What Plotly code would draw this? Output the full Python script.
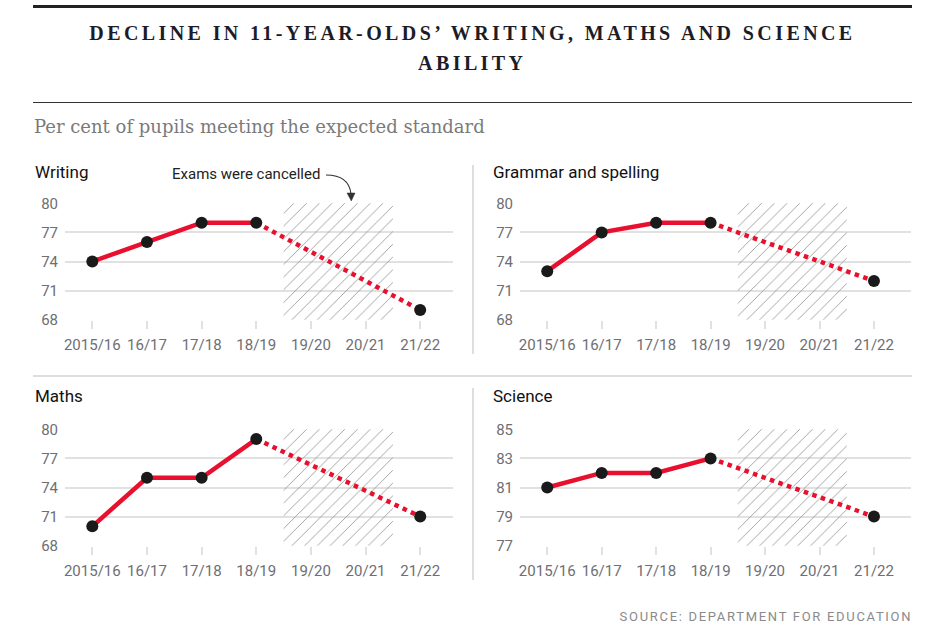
import plotly.graph_objects as go

# ---------------- data ----------------
categories = ["2015/16", "16/17", "17/18", "18/19", "19/20", "20/21", "21/22"]
cancelled = ["19/20", "20/21"]

writing = [74, 76, 78, 78, None, None, 69]
grammar = [73, 77, 78, 78, None, None, 72]
maths = [70, 75, 75, 79, None, None, 71]
science = [81, 82, 82, 83, None, None, 79]

panel_titles = ["Writing", "Grammar and spelling", "Maths", "Science"]
ticks_a = [68, 71, 74, 77, 80]
ticks_b = [77, 79, 81, 83, 85]

title_line1 = "DECLINE IN 11-YEAR-OLDS’ WRITING, MATHS AND SCIENCE"
title_line2 = "ABILITY"
subtitle = "Per cent of pupils meeting the expected standard"
note = "Exams were cancelled"
source = "SOURCE: DEPARTMENT FOR EDUCATION"

# ---------------- layout helpers ----------------
W, H = 939, 643


def px(x):
    return x / W


def py(y):
    return 1 - y / H


RED = "#e8102e"
DOT = "#1a1a1a"
GRID = "#e1e1e1"
TICKC = "#6e6e74"
SANS = "Roboto, Liberation Sans, sans-serif"

panels = [
    dict(vals=writing, ticks=ticks_a, xd=(65, 453), yd=(203, 320), xr=[-0.5, 6.6]),
    dict(vals=grammar, ticks=ticks_a, xd=(520, 911), yd=(203, 320), xr=[-0.5, 6.68]),
    dict(vals=maths, ticks=ticks_a, xd=(65, 453), yd=(429, 546), xr=[-0.5, 6.6]),
    dict(vals=science, ticks=ticks_b, xd=(520, 911), yd=(429, 546), xr=[-0.5, 6.68]),
]
title_pos = [(33, 172), (491, 172), (33, 396), (491, 396)]

idx = list(range(len(categories)))
c_idx = [categories.index(c) for c in cancelled]
c_center = sum(c_idx) / len(c_idx)
c_width = len(c_idx)

fig = go.Figure()
layout_axes = {}

for i, p in enumerate(panels):
    n = i + 1
    xa = "x" if n == 1 else f"x{n}"
    ya = "y" if n == 1 else f"y{n}"
    vals = p["vals"]
    lo, hi = min(p["ticks"]), max(p["ticks"])

    # hatched "cancelled" region
    fig.add_trace(go.Bar(
        x=[c_center], y=[hi - lo], base=[lo], width=[c_width],
        xaxis=xa, yaxis=ya, showlegend=False, hoverinfo="skip",
        marker=dict(color="rgba(0,0,0,0)", line=dict(width=0),
                    pattern=dict(shape="/", fgcolor="#9c9c9c", bgcolor="rgba(255,255,255,0)",
                                 size=9, solidity=0.1)),
    ))

    known = [k for k in idx if vals[k] is not None]
    last_before = max(k for k in known if k < min(c_idx))
    after = min(k for k in known if k > max(c_idx))
    solid_x = [k for k in known if k <= last_before]
    # solid line
    fig.add_trace(go.Scatter(
        x=solid_x, y=[vals[k] for k in solid_x], mode="lines",
        line=dict(color=RED, width=4.5), xaxis=xa, yaxis=ya,
        showlegend=False, hoverinfo="skip"))
    # dotted line across the gap
    fig.add_trace(go.Scatter(
        x=[last_before, after], y=[vals[last_before], vals[after]], mode="lines",
        line=dict(color=RED, width=4.5, dash="4.5px,4.5px"), xaxis=xa, yaxis=ya,
        showlegend=False, hoverinfo="skip"))
    # markers
    fig.add_trace(go.Scatter(
        x=known, y=[vals[k] for k in known], mode="markers",
        marker=dict(color=DOT, size=12), xaxis=xa, yaxis=ya, cliponaxis=False,
        showlegend=False, hovertemplate="%{text}: %{y}%<extra></extra>",
        text=[categories[k] for k in known]))

    xkey = "xaxis" if n == 1 else f"xaxis{n}"
    ykey = "yaxis" if n == 1 else f"yaxis{n}"
    layout_axes[xkey] = dict(
        domain=[px(p["xd"][0]), px(p["xd"][1])], anchor=ya, range=p["xr"],
        tickvals=idx, ticktext=categories, showgrid=False, zeroline=False,
        showline=False, ticks="outside", ticklen=8, tickwidth=1.5, tickcolor=GRID,
        tickfont=dict(family=SANS, size=15, color=TICKC), ticklabelstandoff=3,
        automargin=False, fixedrange=True)
    layout_axes[ykey] = dict(
        domain=[py(p["yd"][1]), py(p["yd"][0])], anchor=xa,
        range=[lo - 0.03 * (hi - lo) / 12, hi + 0.03 * (hi - lo) / 12],
        tickvals=p["ticks"], showgrid=True, gridcolor=GRID, gridwidth=1.5,
        zeroline=False, showline=False, ticks="",
        tickfont=dict(family=SANS, size=15, color=TICKC), ticklabelstandoff=6,
        automargin=False, fixedrange=True)

annotations = []
annotations.append(dict(text=title_line1, x=px(472), y=py(33), xref="paper", yref="paper",
                        xanchor="center", yanchor="middle", showarrow=False, align="center",
                        font=dict(family="Liberation Serif, serif", size=20, color="#1c1c28",
                                  weight="bold")))
annotations.append(dict(text=title_line2, x=px(472), y=py(63), xref="paper", yref="paper",
                        xanchor="center", yanchor="middle", showarrow=False, align="center",
                        font=dict(family="Liberation Serif, serif", size=20, color="#1c1c28",
                                  weight="bold")))
annotations.append(dict(text=subtitle, x=px(32), y=py(127), xref="paper", yref="paper",
                        xanchor="left", yanchor="middle", showarrow=False,
                        font=dict(family="DejaVu Serif, serif", size=18, color="#7a7a7a")))
for t, (x, y) in zip(panel_titles, title_pos):
    annotations.append(dict(text=t, x=px(x), y=py(y), xref="paper", yref="paper",
                            xanchor="left", yanchor="middle", showarrow=False,
                            font=dict(family=SANS, size=17, color="#111111")))
annotations.append(dict(text=note, x=px(246), y=py(174), xref="paper", yref="paper",
                        xanchor="center", yanchor="middle", showarrow=False,
                        font=dict(family=SANS, size=15, color="#222222")))
annotations.append(dict(text=source, x=px(914), y=py(616), xref="paper", yref="paper",
                        xanchor="right", yanchor="middle", showarrow=False, align="right",
                        font=dict(family=SANS, size=13, color="#8a8a8a")))

shapes = [
    # top thick rule
    dict(type="line", xref="paper", yref="paper", x0=px(33), x1=px(912), y0=py(6.5), y1=py(6.5),
         line=dict(color="#222222", width=3)),
    # rule under title
    dict(type="line", xref="paper", yref="paper", x0=px(33), x1=px(912), y0=py(102.5), y1=py(102.5),
         line=dict(color="#333333", width=1)),
    # horizontal separator
    dict(type="line", xref="paper", yref="paper", x0=px(33), x1=px(912), y0=py(376), y1=py(376),
         line=dict(color="#dedede", width=2)),
    # vertical separators
    dict(type="line", xref="paper", yref="paper", x0=px(473), x1=px(473), y0=py(165), y1=py(354),
         line=dict(color="#dedede", width=2)),
    dict(type="line", xref="paper", yref="paper", x0=px(473), x1=px(473), y0=py(388), y1=py(580),
         line=dict(color="#dedede", width=2)),
    # curved arrow
    dict(type="path", xref="paper", yref="paper",
         path=f"M {px(326)},{py(175)} Q {px(349)},{py(175)} {px(351)},{py(194)}",
         line=dict(color="#333333", width=1.2)),
    dict(type="path", xref="paper", yref="paper",
         path=f"M {px(347)},{py(193)} L {px(355)},{py(193)} L {px(351.3)},{py(201)} Z",
         fillcolor="#333333", line=dict(color="#333333", width=0.5)),
]

fig.update_layout(
    template="none",
    width=W, height=H, margin=dict(l=0, r=0, t=0, b=0, pad=0, autoexpand=False),
    paper_bgcolor="white", plot_bgcolor="white",
    showlegend=False, barmode="overlay",
    annotations=annotations, shapes=shapes,
    **layout_axes,
)

js = """
var s = document.createElement('style');
s.innerHTML = '.annotation[data-index="0"] text, .annotation[data-index="1"] text {letter-spacing:3.4px;}' +
              '.annotation[data-index="8"] text {letter-spacing:1.7px;}';
document.head.appendChild(s);
"""
fig.write_html("out.html", post_script=js, config={"displayModeBar": False})
